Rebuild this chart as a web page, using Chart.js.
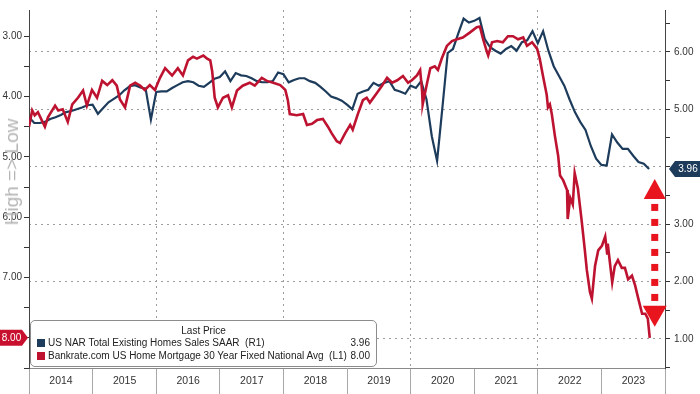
<!DOCTYPE html>
<html>
<head>
<meta charset="utf-8">
<script src="https://cdn.jsdelivr.net/npm/chart.js@4.4.0/dist/chart.umd.min.js"></script>
<style>
  html, body { margin: 0; padding: 0; background: #fff; }
  #wrap { position: relative; width: 700px; height: 394px; }
  #legendBox {
    position: absolute; left: 30px; top: 320px; width: 347px; height: 47px;
    box-sizing: border-box; border: 1px solid #8c8c8c; border-radius: 5px; background: #fff;
    font-family: "Liberation Sans", Arial, sans-serif; font-size: 10px; color: #222;
  }
  #legendBox .title { position: absolute; left: 0; right: 0; top: 4px; text-align: center; line-height: 12px; }
  #legendBox .row { position: absolute; left: 0; right: 0; height: 12px; line-height: 12px; white-space: pre; }
  #legendBox .sw { position: absolute; left: 6px; top: 2px; width: 8px; height: 8px; }
  #legendBox .nm { position: absolute; left: 17px; }
  #legendBox .val { position: absolute; right: 6px; }
  #sideNote {
    position: absolute; left: 12px; top: 172px; transform: translate(-50%, -50%) rotate(-90deg);
    font-family: "Liberation Sans", Arial, sans-serif; font-size: 19px; color: #b4b4b4; white-space: nowrap;
  }
</style>
</head>
<body>
<div id="wrap">
  <canvas id="chart" width="700" height="394"></canvas>
  <div id="sideNote">High =&gt; Low</div>
  <div id="legendBox">
    <div class="title">Last Price</div>
    <div class="row" style="top:16px"><span class="sw" style="background:#1d3b5b"></span><span class="nm" id="salesName"></span><span class="val" id="salesLast"></span></div>
    <div class="row" style="top:29px"><span class="sw" style="background:#bd1330"></span><span class="nm" id="rateName"></span><span class="val" id="rateLast"></span></div>
  </div>
</div>
<script>
// US NAR existing home sales, SAAR (millions), month-end points, right axis
const salesMonths = [
  '2013-12',
  '2014-01','2014-02','2014-03','2014-04','2014-05','2014-06','2014-07','2014-08','2014-09','2014-10','2014-11','2014-12',
  '2015-01','2015-02','2015-03','2015-04','2015-05','2015-06','2015-07','2015-08','2015-09','2015-10','2015-11','2015-12',
  '2016-01','2016-02','2016-03','2016-04','2016-05','2016-06','2016-07','2016-08','2016-09','2016-10','2016-11','2016-12',
  '2017-01','2017-02','2017-03','2017-04','2017-05','2017-06','2017-07','2017-08','2017-09','2017-10','2017-11','2017-12',
  '2018-01','2018-02','2018-03','2018-04','2018-05','2018-06','2018-07','2018-08','2018-09','2018-10','2018-11','2018-12',
  '2019-01','2019-02','2019-03','2019-04','2019-05','2019-06','2019-07','2019-08','2019-09','2019-10','2019-11','2019-12',
  '2020-01','2020-02','2020-03','2020-04','2020-05','2020-06','2020-07','2020-08','2020-09','2020-10','2020-11','2020-12',
  '2021-01','2021-02','2021-03','2021-04','2021-05','2021-06','2021-07','2021-08','2021-09','2021-10','2021-11','2021-12',
  '2022-01','2022-02','2022-03','2022-04','2022-05','2022-06','2022-07','2022-08','2022-09','2022-10','2022-11','2022-12',
  '2023-01','2023-02','2023-03','2023-04','2023-05','2023-06','2023-07','2023-08','2023-09'
];
const salesValues = [
  4.86,
  4.76, 4.76, 4.78, 4.83, 4.86, 4.90, 4.95, 4.97, 5.00, 5.03, 5.07, 5.08,
  4.92, 5.02, 5.12, 5.18, 5.24, 5.33, 5.40, 5.42, 5.38, 5.36, 4.82, 5.30,
  5.31, 5.31, 5.37, 5.42, 5.47, 5.49, 5.47, 5.41, 5.39, 5.46, 5.53, 5.56,
  5.66, 5.49, 5.63, 5.59, 5.58, 5.54, 5.49, 5.47, 5.47, 5.49, 5.64, 5.61,
  5.47, 5.51, 5.54, 5.54, 5.49, 5.46, 5.39, 5.31, 5.22, 5.19, 5.15, 5.08,
  5.00, 5.27, 5.31, 5.34, 5.46, 5.41, 5.46, 5.49, 5.34, 5.31, 5.27, 5.41,
  5.37, 5.49, 5.17, 4.53, 4.10, 5.03, 5.98, 6.05, 6.32, 6.58, 6.51, 6.54,
  6.59, 6.22, 6.08, 6.02, 5.97, 6.05, 6.10, 6.02, 6.17, 6.20, 6.36, 6.15,
  6.36, 6.02, 5.75, 5.58, 5.41, 5.17, 4.95, 4.78, 4.64, 4.36, 4.14, 4.03,
  4.02, 4.56, 4.42, 4.31, 4.31, 4.19, 4.08, 4.05, 3.96
];

// Bankrate.com 30Y fixed mortgage rate (%), left axis (inverted)
const rateTimes = [
  2014.00, 2014.05, 2014.09, 2014.14, 2014.20, 2014.25, 2014.30, 2014.41, 2014.46, 2014.53,
  2014.61, 2014.68, 2014.77, 2014.85, 2014.91, 2014.99, 2015.07, 2015.15, 2015.23, 2015.31,
  2015.38, 2015.43, 2015.51, 2015.59, 2015.67, 2015.75, 2015.82, 2015.90, 2015.98, 2016.06,
  2016.14, 2016.25, 2016.34, 2016.42, 2016.50, 2016.58, 2016.64, 2016.74, 2016.80, 2016.85,
  2016.88, 2016.92, 2016.97, 2017.05, 2017.13, 2017.19, 2017.27, 2017.36, 2017.47, 2017.55,
  2017.66, 2017.74, 2017.84, 2017.95, 2018.03, 2018.07, 2018.10, 2018.21, 2018.31, 2018.37,
  2018.45, 2018.53, 2018.62, 2018.70, 2018.76, 2018.84, 2018.89, 2018.97, 2019.05, 2019.09,
  2019.17, 2019.25, 2019.31, 2019.36, 2019.47, 2019.55, 2019.63, 2019.71, 2019.79, 2019.88,
  2019.96, 2020.02, 2020.10, 2020.15, 2020.18, 2020.19, 2020.26, 2020.31, 2020.38, 2020.43,
  2020.49, 2020.57, 2020.65, 2020.73, 2020.82, 2020.93, 2021.04, 2021.09, 2021.14, 2021.20,
  2021.22, 2021.28, 2021.36, 2021.45, 2021.53, 2021.61, 2021.69, 2021.77, 2021.83, 2021.91,
  2021.99, 2022.03, 2022.08, 2022.14, 2022.16, 2022.19, 2022.22, 2022.27, 2022.32, 2022.35,
  2022.40, 2022.46, 2022.47, 2022.51, 2022.55, 2022.58, 2022.63, 2022.69, 2022.74, 2022.77,
  2022.82, 2022.85, 2022.90, 2022.95, 2023.01, 2023.06, 2023.09, 2023.10, 2023.17, 2023.21,
  2023.26, 2023.32, 2023.37, 2023.42, 2023.48, 2023.53, 2023.58, 2023.64, 2023.69, 2023.73,
  2023.76
];
const rateValues = [
  4.50, 4.23, 4.31, 4.26, 4.39, 4.50, 4.34, 4.15, 4.23, 4.21,
  4.42, 4.13, 4.02, 3.90, 4.15, 3.89, 4.02, 3.74, 3.81, 3.73,
  3.82, 4.05, 4.18, 3.82, 3.77, 3.82, 3.89, 3.81, 3.89, 3.69,
  3.53, 3.65, 3.53, 3.65, 3.40, 3.34, 3.37, 3.32, 3.37, 3.40,
  3.58, 4.02, 4.18, 4.02, 3.98, 4.18, 3.90, 3.82, 3.77, 3.82,
  3.69, 3.74, 3.77, 3.81, 3.89, 4.06, 4.29, 4.31, 4.29, 4.47,
  4.45, 4.39, 4.37, 4.50, 4.61, 4.74, 4.77, 4.61, 4.47, 4.55,
  4.29, 4.06, 4.02, 4.10, 3.94, 3.82, 3.69, 3.77, 3.73, 3.66,
  3.77, 3.73, 3.65, 3.56, 3.90, 4.13, 3.77, 3.53, 3.50, 3.56,
  3.37, 3.16, 3.08, 3.05, 3.02, 2.94, 2.85, 2.84, 3.05, 3.26,
  3.32, 3.10, 3.08, 3.10, 3.00, 3.00, 3.05, 3.02, 3.16, 3.10,
  3.21, 3.37, 3.65, 3.97, 4.18, 4.13, 4.29, 4.66, 4.98, 5.31,
  5.39, 5.55, 6.03, 5.68, 5.79, 5.27, 5.52, 6.06, 6.55, 6.87,
  7.24, 7.35, 6.81, 6.55, 6.47, 6.32, 6.60, 6.44, 7.08, 6.81,
  6.71, 6.84, 6.84, 7.03, 6.97, 7.13, 7.35, 7.60, 7.60, 7.68,
  8.00
];

const salesLabel = 'US NAR Total Existing Homes Sales SAAR  (R1)';
const rateLabel = 'Bankrate.com US Home Mortgage 30 Year Fixed National Avg  (L1)';
const yearTicks = [2014, 2015, 2016, 2017, 2018, 2019, 2020, 2021, 2022, 2023];

const navy = '#1d3b5b';
const crimson = '#bd1330';
const gridGray = '#9c9c9c';

function monthToYear(m) {
  const [y, mo] = m.split('-').map(Number);
  return y + mo / 12;
}
function isWhole(v) { return Math.abs(v - Math.round(v)) < 1e-6; }

const lastSales = salesValues[salesValues.length - 1];
const lastRate = rateValues[rateValues.length - 1];

document.getElementById('salesName').textContent = salesLabel;
document.getElementById('rateName').textContent = rateLabel;
document.getElementById('salesLast').textContent = lastSales.toFixed(2);
document.getElementById('rateLast').textContent = lastRate.toFixed(2);

// value tags on the axes + the red dashed double arrow between the two last values
const tagsPlugin = {
  id: 'tags',
  afterDraw(chart) {
    const ctx = chart.ctx;
    const xs = chart.scales.x, yL = chart.scales.yL, yR = chart.scales.yR;
    const ry = yL.getPixelForValue(lastRate);
    const sy = yR.getPixelForValue(lastSales);
    ctx.save();
    ctx.font = '10px "Liberation Sans", Arial, sans-serif';
    ctx.textAlign = 'center';
    ctx.textBaseline = 'middle';

    ctx.fillStyle = '#c8102e';
    ctx.beginPath();
    ctx.moveTo(0, ry - 8); ctx.lineTo(22, ry - 8); ctx.lineTo(28, ry);
    ctx.lineTo(22, ry + 8); ctx.lineTo(0, ry + 8); ctx.closePath();
    ctx.fill();
    ctx.fillStyle = '#fff';
    ctx.fillText(lastRate.toFixed(2), 11.5, ry + 0.5);

    ctx.fillStyle = navy;
    ctx.beginPath();
    ctx.moveTo(700, sy - 8); ctx.lineTo(675, sy - 8); ctx.lineTo(669, sy);
    ctx.lineTo(675, sy + 8); ctx.lineTo(700, sy + 8); ctx.closePath();
    ctx.fill();
    ctx.fillStyle = '#fff';
    ctx.fillText(lastSales.toFixed(2), 688, sy + 0.5);

    // arrow
    const ax = xs.getPixelForValue(rateTimes[rateTimes.length - 1]) + 5;
    const top = sy + 10;
    const bottom = ry - 11;
    ctx.fillStyle = '#e8141e';
    ctx.beginPath();
    ctx.moveTo(ax, top); ctx.lineTo(ax + 11, top + 20); ctx.lineTo(ax - 11, top + 20); ctx.closePath();
    ctx.fill();
    ctx.beginPath();
    ctx.moveTo(ax, bottom); ctx.lineTo(ax + 12, bottom - 21); ctx.lineTo(ax - 12, bottom - 21); ctx.closePath();
    ctx.fill();
    for (let y = top + 25; y < bottom - 24; y += 15) {
      ctx.fillRect(ax - 3.5, y, 7, 7);
    }
    ctx.restore();
  }
};

Chart.defaults.font.family = '"Liberation Sans", Arial, sans-serif';
Chart.defaults.font.size = 10;
Chart.defaults.color = '#222';

new Chart(document.getElementById('chart'), {
  type: 'line',
  data: {
    datasets: [
      {
        label: rateLabel,
        data: rateTimes.map((t, i) => ({ x: t, y: rateValues[i] })),
        yAxisID: 'yL',
        borderColor: crimson,
        borderWidth: 2.6,
        pointRadius: 0,
        tension: 0
      },
      {
        label: salesLabel,
        data: salesMonths.map((m, i) => ({ x: monthToYear(m), y: salesValues[i] })),
        yAxisID: 'yR',
        borderColor: navy,
        borderWidth: 2.2,
        pointRadius: 0,
        tension: 0
      }
    ]
  },
  options: {
    responsive: false,
    animation: false,
    layout: { padding: 0, autoPadding: false },
    plugins: { legend: { display: false }, tooltip: { enabled: false } },
    scales: {
      x: {
        type: 'linear',
        position: 'bottom',
        min: 2014,
        max: 2024,
        afterBuildTicks: (scale) => {
          scale.ticks = yearTicks.concat([2024]).map(v => ({ value: v }));
        },
        afterFit: (scale) => { scale.height = 26; },
        ticks: {
          autoSkip: false,
          maxRotation: 0,
          labelOffset: 32,
          padding: -19,
          color: '#333',
          font: { size: 10.5 },
          callback: (v) => yearTicks.includes(v) ? String(v) : ''
        },
        grid: {
          color: (c) => (c.tick && c.tick.value % 2 === 0) ? gridGray : 'rgba(0,0,0,0)',
          tickColor: '#a8a8a8',
          tickLength: 26,
          lineWidth: 1
        },
        border: { color: '#8a8a8a', dash: [2, 4] }
      },
      yL: {
        type: 'linear',
        position: 'left',
        reverse: true,
        min: 2.565,
        max: 8.5,
        afterFit: (scale) => { scale.width = 29; },
        ticks: {
          stepSize: 0.5,
          includeBounds: false,
          autoSkip: false,
          padding: 2,
          color: '#333',
          callback: (v) => isWhole(v) ? v.toFixed(2) : ''
        },
        grid: { drawOnChartArea: false, tickColor: '#333', tickLength: 5 },
        border: { color: '#444' }
      },
      yR: {
        type: 'linear',
        position: 'right',
        min: 0.492,
        max: 6.729,
        afterFit: (scale) => { scale.width = 35; },
        ticks: {
          stepSize: 0.5,
          includeBounds: false,
          autoSkip: false,
          padding: 4,
          color: '#333',
          callback: (v) => isWhole(v) ? v.toFixed(2) : ''
        },
        grid: {
          color: (c) => (c.tick && isWhole(c.tick.value)) ? gridGray : 'rgba(0,0,0,0)',
          tickColor: '#333',
          tickLength: 5
        },
        border: { color: '#444', dash: [2, 4] }
      }
    }
  },
  plugins: [tagsPlugin]
});
</script>
</body>
</html>
